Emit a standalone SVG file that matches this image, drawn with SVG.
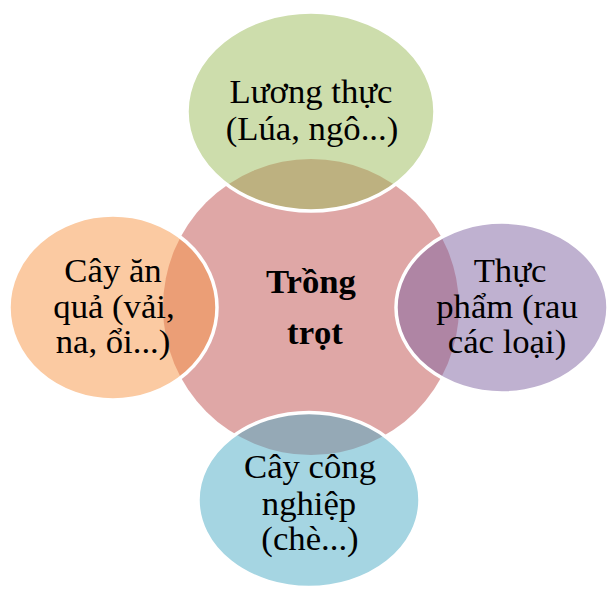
<svg xmlns="http://www.w3.org/2000/svg" width="607" height="591" viewBox="0 0 607 591">
<style>
.node{stroke:#fff;stroke-width:3.5}
.t{font-family:"Liberation Serif","Times New Roman",serif;font-size:34.7px;fill:#000;text-anchor:middle}
.b{font-weight:bold}
</style>
<rect width="607" height="591" fill="#fff"/>
<g id="center">
<circle cx="311" cy="307" r="148" fill="#C0504D" fill-opacity="0.5"/>
</g>
<g id="connectors"></g>
<g id="luong-thuc">
<ellipse class="node" cx="311" cy="111.5" rx="124" ry="99.5" fill="#9BBB59" fill-opacity="0.5"/>
<text class="t" x="311" y="103">Lương thực</text>
<text class="t" x="312" y="140">(Lúa, ngô...)</text>
</g>
<g id="thuc-pham">
<ellipse class="node" cx="502" cy="307.5" rx="106" ry="85.5" fill="#8064A2" fill-opacity="0.5"/>
<text class="t" x="510" y="282">Thực</text>
<text class="t" x="507" y="318">phẩm (rau</text>
<text class="t" x="507" y="353">các loại)</text>
</g>
<g id="cay-cong-nghiep">
<ellipse class="node" cx="309" cy="500" rx="111" ry="87.5" fill="#4BACC6" fill-opacity="0.5"/>
<text class="t" x="310" y="478">Cây công</text>
<text class="t" x="309" y="515">nghiệp</text>
<text class="t" x="310" y="550">(chè...)</text>
</g>
<g id="cay-an-qua">
<ellipse class="node" cx="113" cy="307.5" rx="104" ry="92.5" fill="#F79646" fill-opacity="0.5"/>
<text class="t" x="113" y="282">Cây ăn</text>
<text class="t" x="114" y="318">quả (vải,</text>
<text class="t" x="113" y="353">na, ổi...)</text>
</g>
<g id="center-label">
<text class="t b" x="311" y="293">Trồng</text>
<text class="t b" x="315" y="344">trọt</text>
</g>
</svg>
